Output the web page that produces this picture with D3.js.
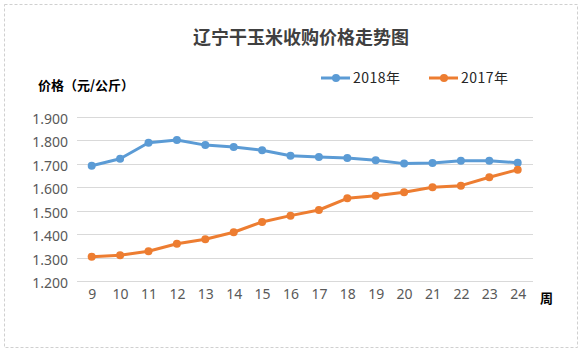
<!DOCTYPE html>
<html lang="zh">
<head>
<meta charset="UTF-8">
<title>辽宁干玉米收购价格走势图</title>
<script src="https://d3js.org/d3.v7.min.js"></script>
<style>
  body { margin: 0; background: #fff; }
  text { font-family: "Noto Sans CJK SC", "Microsoft YaHei", sans-serif; }
</style>
</head>
<body>
<script>
    const width  = 580;
    const height = 354;

    const weeks = [9,10,11,12,13,14,15,16,17,18,19,20,21,22,23,24];
    const yTicks = [1.2,1.3,1.4,1.5,1.6,1.7,1.8,1.9];
    const price2018 = [1.692,1.722,1.790,1.802,1.780,1.772,1.758,1.735,1.729,1.725,1.715,1.701,1.704,1.713,1.713,1.705];
    const price2017 = [1.304,1.310,1.327,1.359,1.378,1.408,1.452,1.479,1.503,1.553,1.564,1.579,1.600,1.607,1.643,1.675];

    const seriesNames = ["2018年", "2017年"];
    const colors = ["#5b9bd5", "#ed7d31"];

    const svg = d3.select("body").append("svg").attr("width", width).attr("height", height);

    // outer dashed frame
    svg.append("rect")
        .attr("x", 4.5).attr("y", 4.5)
        .attr("width", 573).attr("height", 343)
        .attr("fill", "none")
        .attr("stroke", "#d0d0d0")
        .attr("stroke-dasharray", "3,2");

    const scaleX = d3.scalePoint()
        .domain(weeks)
        .range([91.7, 517.7]);

    const scaleY = d3.scaleLinear()
        .domain([1.2, 1.9])
        .range([281, 117]);

    // gridlines
    svg.append("g").selectAll("line")
        .data(yTicks)
        .join("line")
        .attr("x1", 77).attr("x2", 533)
        .attr("y1", d => Math.round(scaleY(d)) + 0.5)
        .attr("y2", d => Math.round(scaleY(d)) + 0.5)
        .attr("stroke", "#d9d9d9");

    const yAxis = d3.axisLeft(scaleY)
        .tickValues(yTicks)
        .tickFormat(d3.format(".3f"))
        .tickSize(0)
        .tickPadding(0);
    const gy = svg.append("g").attr("transform", "translate(68,2)").call(yAxis);
    gy.select(".domain").remove();
    gy.selectAll("text").attr("fill", "#595959").style("font-size", "14px")
        .style("font-family", "'Noto Sans', 'DejaVu Sans', sans-serif");

    const xAxis = d3.axisBottom(scaleX).tickSize(0).tickPadding(0);
    const gx = svg.append("g").attr("transform", "translate(0,289)").call(xAxis);
    gx.select(".domain").remove();
    gx.selectAll("text").attr("fill", "#595959").style("font-size", "14px")
        .style("font-family", "'Noto Sans', 'DejaVu Sans', sans-serif");

    const line = d3.line()
        .x((d, i) => scaleX(weeks[i]))
        .y(d => scaleY(d));

    [price2018, price2017].forEach((s, k) => {
        svg.append("path")
            .attr("d", line(s))
            .attr("fill", "none")
            .attr("stroke", colors[k])
            .attr("stroke-width", 3)
            .attr("stroke-linejoin", "round");
        svg.append("g").selectAll("circle")
            .data(s)
            .join("circle")
            .attr("cx", (d, i) => scaleX(weeks[i]))
            .attr("cy", d => scaleY(d))
            .attr("r", 4)
            .attr("fill", colors[k]);
    });

    // title
    svg.append("text")
        .attr("x", 301).attr("y", 44)
        .attr("text-anchor", "middle")
        .attr("fill", "#404040")
        .style("font-size", "18px")
        .style("font-weight", "bold")
        .text("辽宁干玉米收购价格走势图");

    // y axis title
    svg.append("text")
        .attr("x", 38).attr("y", 90)
        .attr("fill", "#000")
        .style("font-size", "13px")
        .style("font-weight", "bold")
        .text("价格（元/公斤）");

    // x axis unit
    svg.append("text")
        .attr("x", 540).attr("y", 303)
        .attr("fill", "#000")
        .style("font-size", "13px")
        .style("font-weight", "bold")
        .text("周");

    // legend
    const legendX = [321, 429];
    seriesNames.forEach((name, k) => {
        const g = svg.append("g").attr("transform", "translate(" + [legendX[k], 78] + ")");
        g.append("line").attr("x1", 0).attr("x2", 29).attr("stroke", colors[k]).attr("stroke-width", 3);
        g.append("circle").attr("cx", 15).attr("r", 4).attr("fill", colors[k]);
        g.append("text").attr("x", 32).attr("y", 5)
            .attr("fill", "#262626")
            .style("font-size", "14px")
            .style("letter-spacing", "0.5px")
            .text(name);
    });
</script>
</body>
</html>
